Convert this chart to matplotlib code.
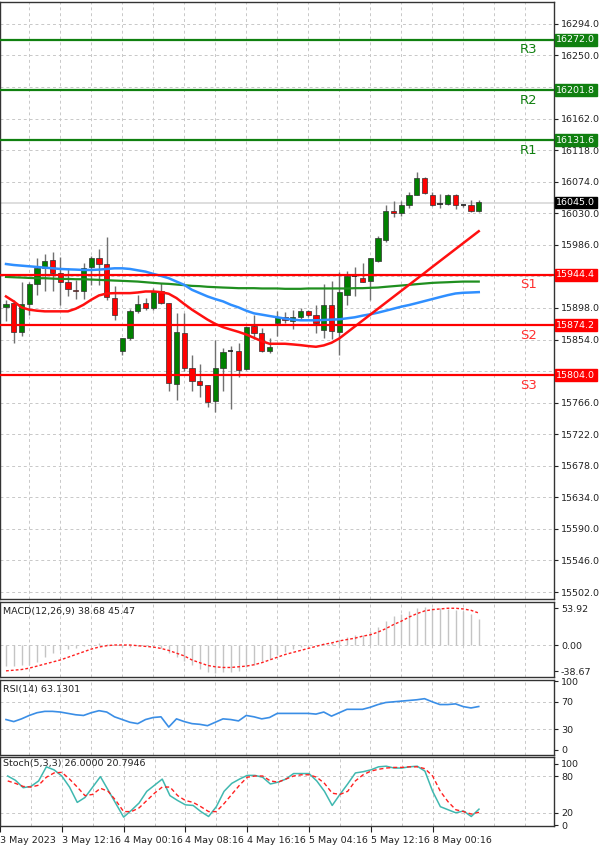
import matplotlib
matplotlib.use("Agg")
import matplotlib.pyplot as plt
import numpy as np

opens = [15899.4,15904.9,15864.7,15904.0,15931.2,15953.3,15964.9,15946.4,15934.0,15923.3,
         15922.0,15955.7,15967.2,15959.3,15911.8,15838.0,15856.4,15893.3,15904.9,15898.0,
         15922.0,15904.9,15791.8,15863.4,15814.9,15796.4,15790.9,15768.7,15814.9,15838.0,
         15838.0,15812.6,15872.6,15863.4,15838.0,15877.2,15885.5,15879.5,15885.0,15893.3,
         15888.7,15866.6,15901.7,15864.3,15916.4,15941.8,15939.5,15935.8,15963.5,15992.6,
         16033.2,16030.9,16041.0,16055.8,16078.9,16055.8,16043.3,16043.3,16054.9,16040.5,
         16041.0,16032.7]
highs = [15909.5,15909.5,15934.9,15934.9,15967.2,15972.8,15976.4,15968.6,15953.3,15937.2,
         15960.3,15970.9,15980.1,15997.2,15928.0,15856.4,15897.0,15916.4,15911.8,15925.7,
         15932.6,15904.9,15891.0,15891.0,15832.4,15819.5,15790.9,15852.7,15841.7,15844.9,
         15849.5,15872.6,15887.8,15869.4,15856.4,15893.3,15892.4,15895.7,15898.0,15895.7,
         15902.6,15931.2,15935.8,15948.7,15950.1,15955.7,15960.3,15968.1,15998.6,16042.0,
         16046.6,16046.6,16059.5,16087.2,16080.3,16059.5,16057.2,16057.2,16057.2,16043.0,
         16047.9,16047.9]
lows = [15879.5,15849.5,15858.7,15888.7,15915.5,15921.0,15921.0,15902.6,15914.1,15910.9,
        15910.9,15930.3,15930.3,15909.5,15881.8,15832.4,15852.7,15891.0,15895.7,15895.7,
        15903.5,15782.6,15769.7,15810.3,15782.6,15773.4,15760.4,15752.6,15782.6,15757.2,
        15802.0,15811.2,15854.1,15837.0,15835.7,15858.7,15877.2,15868.0,15881.8,15885.0,
        15863.4,15856.4,15854.1,15832.4,15902.6,15914.1,15934.0,15909.5,15961.7,15990.3,
        16024.9,16026.3,16037.3,16054.9,16057.2,16040.1,16037.3,16041.0,16035.5,16039.0,
        16031.8,16031.8]
closes = [15904.0,15864.7,15904.0,15931.2,15953.3,15963.5,15946.4,15934.0,15924.7,15921.0,
          15954.3,15967.2,15959.3,15912.7,15888.7,15856.4,15893.3,15903.5,15898.0,15922.0,
          15904.9,15794.1,15864.7,15814.0,15796.4,15790.9,15766.4,15814.9,15837.0,15838.5,
          15811.2,15871.2,15863.4,15838.0,15843.5,15885.5,15880.9,15885.0,15893.3,15887.8,
          15877.2,15902.6,15865.7,15920.1,15943.2,15942.3,15934.9,15967.2,15994.9,16032.7,
          16030.4,16042.0,16055.8,16078.9,16057.6,16041.0,16043.8,16054.9,16042.0,16041.5,
          16032.7,16045.6]
ma_red = [15914.1,15907.2,15898.8,15895.6,15894.2,15893.3,15893.3,15893.3,15893.3,15897.0,
          15902.5,15909.5,15915.5,15918.2,15918.7,15918.7,15918.7,15919.6,15921.0,15921.0,
          15920.1,15917.8,15911.8,15903.5,15895.6,15888.7,15881.8,15875.8,15871.2,15867.9,
          15864.7,15861.0,15856.4,15851.8,15848.1,15848.1,15848.1,15847.2,15846.2,15844.9,
          15843.9,15845.8,15849.5,15855.5,15863.8,15872.1,15880.4,15888.7,15897.0,15905.3,
          15913.6,15921.9,15930.2,15938.5,15946.8,15955.2,15963.5,15971.8,15980.1,15988.4,
          15996.7,16005.0]
ma_blue = [15959.3,15957.9,15957.0,15956.1,15955.2,15954.2,15953.3,15952.4,15951.9,15951.5,
           15951.0,15951.0,15951.5,15952.4,15953.3,15953.3,15952.4,15950.5,15948.7,15945.5,
           15942.7,15939.5,15934.8,15930.2,15923.3,15918.7,15914.1,15910.4,15907.2,15902.5,
           15898.8,15894.2,15890.5,15888.7,15886.8,15885.0,15883.2,15881.8,15880.8,15880.8,
           15880.8,15881.3,15881.8,15882.2,15883.6,15885.0,15887.3,15889.2,15891.5,15894.2,
           15897.0,15899.8,15902.1,15904.8,15907.6,15910.4,15913.2,15915.9,15918.2,15919.2,
           15919.6,15920.1]
ma_green = [15941.3,15940.8,15940.4,15939.9,15939.5,15939.5,15939.0,15938.5,15938.5,15938.1,
            15938.1,15937.6,15937.2,15936.7,15936.2,15935.8,15935.3,15934.8,15933.9,15933.0,
            15932.1,15931.6,15930.7,15929.8,15928.8,15928.4,15927.5,15927.0,15926.5,15926.1,
            15925.6,15925.6,15925.6,15925.2,15925.2,15925.2,15924.7,15924.7,15924.7,15925.2,
            15925.2,15925.2,15925.2,15925.2,15925.2,15925.6,15925.6,15926.1,15926.5,15927.5,
            15928.4,15929.3,15930.2,15931.2,15932.1,15933.0,15933.5,15933.9,15934.4,15934.8,
            15934.8,15934.8]
macd_main = [-31,-31,-30,-29,-25,-18,-12,-8,-6,-4,-2,0,3,2,0,-3,-3,-2,-1,-2,
             -5,-12,-18,-24,-30,-35,-40,-41,-40,-40,-38,-33,-30,-24,-20,-15,-10,-6,-3,-1,
             0,2,3,6,12,15,15,20,27,35,42,45,50,55,56,55,54,53,52,50,45,38.68]
macd_signal = [-38,-37,-36,-34,-31,-28,-25,-22,-18,-14,-10,-6,-3,-1,0,0,0,-1,-2,-3,
               -5,-8,-12,-16,-22,-26,-30,-32,-33,-33,-32,-31,-29,-26,-22,-18,-14,-11,-8,-5,
               -2,1,3,6,8,10,13,15,19,24,30,35,41,46,50,52,53,54,54,53,51,47]
rsi = [44,41,45,50,54,56,56,55,53,51,50,54,57,55,48,44,40,38,44,47,
       48,33,45,41,38,37,35,40,45,44,42,50,48,45,47,53,53,53,53,53,
       52,55,49,54,59,59,59,62,66,69,70,71,72,73,74.6,70,66,66,67,63,61,63.13]
stoch_k = [80,73,61,63,72,95,90,80,62,37,45,62,79,57,35,13,24,36,55,65,
           75,48,40,33,32,22,14,30,55,68,75,81,81,78,67,70,75,84,84,84,
           72,55,32,50,67,85,87,90,95,96,93,93,95,96,88,55,30,25,20,23,14,26]
stoch_d = [72,68,63,62,65,78,85,86,75,62,48,50,60,55,40,22,22,28,40,52,
           62,62,48,40,37,30,22,22,35,50,65,78,80,80,72,70,75,80,82,82,
           78,68,52,50,55,72,82,88,91,93,94,94,95,95,92,80,55,38,25,22,18,20.79]
level_names = ["R3", "R2", "R1", "S1", "S2", "S3"]
level_values = [16272.0, 16201.8, 16131.6, 15944.4, 15874.2, 15804.0]
current_price = 16045.0
xtick_index = [-1, 7, 15, 23, 31, 39, 47, 55]
xtick_labels = ["3 May 2023", "3 May 12:16", "4 May 00:16", "4 May 08:16",
                "4 May 16:16", "5 May 04:16", "5 May 12:16", "8 May 00:16"]
price_ticks = [16294, 16250, 16206, 16162, 16118, 16074, 16030, 15986, 15942, 15898,
               15854, 15810, 15766, 15722, 15678, 15634, 15590, 15546, 15502]

W, H = 600, 846
fig = plt.figure(figsize=(6, 8.46), dpi=100)
plt.rcParams["font.family"] = "DejaVu Sans"
def axpx(top, bottom):
    return fig.add_axes([0, 1 - bottom / H, 554 / W, (bottom - top) / H])

ax = axpx(2, 599)
ax1 = axpx(602, 677)
ax2 = axpx(680, 755)
ax3 = axpx(757, 826)
n = len(opens)
x = np.arange(n)
xl = (-6 / 7.75, (554 - 6) / 7.75)
vgrid = np.arange(-1, 72, 4)
for a in (ax, ax1, ax2, ax3):
    a.set_xlim(*xl)
    a.yaxis.tick_right()
    a.tick_params(axis="y", labelsize=6.8, length=3, pad=2, colors="#222222")
    a.set_xticks([])
    for v in vgrid:
        a.axvline(v, color="#c8c8c8", ls=(0, (3, 3)), lw=0.7, zorder=0)
    for s in a.spines.values():
        s.set_color("#333333")
        s.set_linewidth(1)

# main panel
ax.set_ylim(16294 - 577 / 0.7197, 16294 + 22 / 0.7197)
labels = []
for p in price_ticks:
    hide = any(abs(p - lv) < 8 for lv in level_values)
    labels.append("" if hide else f"{p:.1f}")
ax.set_yticks(price_ticks)
ax.set_yticklabels(labels)
for p in price_ticks:
    ax.axhline(p, color="#c8c8c8", ls=(0, (3, 3)), lw=0.7, zorder=0)
ax.axhline(current_price, color="#d8d8d8", lw=1.2, zorder=1)
for i in range(n):
    o, h, l, c = opens[i], highs[i], lows[i], closes[i]
    ax.vlines(i, l, h, color="#707070", lw=1, zorder=2)
    col = "#008000" if c >= o else "#ff0000"
    if abs(c - o) < 1.5:
        ax.hlines((o + c) / 2, i - 0.33, i + 0.33, color="#202020", lw=1.2, zorder=3)
    else:
        ax.bar(i, abs(c - o), bottom=min(o, c), width=0.66, color=col,
               edgecolor="#303030", linewidth=0.5, zorder=3)
ax.plot(x, ma_green, color="#1f8f1f", lw=1.6, zorder=4)
ax.plot(x, ma_blue, color="#2f8fff", lw=1.8, zorder=4)
ax.plot(x, ma_red, color="#ff1010", lw=1.8, zorder=4)
tr = ax.get_yaxis_transform()
for name, lv in zip(level_names, level_values):
    col = "#108010" if name.startswith("R") else "#ff0000"
    ax.axhline(lv, color=col, lw=1.6, zorder=4)
    ax.text(67.4, lv - 14, name, color=col if name.startswith("R") else "#ff3030",
            fontsize=9.5, ha="center", va="center")
    ax.text(1.004, lv, f"{lv:.1f}", transform=tr, color="white", fontsize=6.8,
            va="center", ha="left",
            bbox=dict(boxstyle="square,pad=0.15", fc=col, ec=col), clip_on=False)
ax.text(1.004, current_price, f"{current_price:.1f}", transform=tr, color="white",
        fontsize=6.8, va="center", ha="left",
        bbox=dict(boxstyle="square,pad=0.15", fc="black", ec="black"), clip_on=False)

# MACD
ax1.set_ylim(-47, 63.2)
ax1.vlines(x, 0, macd_main, color="#c4c4c4", lw=1)
ax1.plot(x, macd_signal, color="#ff2020", lw=1, ls=(0, (2, 1.5)))
ax1.axhline(0, color="#c8c8c8", ls=(0, (3, 3)), lw=0.7, zorder=0)
ax1.set_yticks([53.92, 0, -38.67])
ax1.set_yticklabels(["53.92", "0.00", "-38.67"])
ax1.text(0.005, 0.93, "MACD(12,26,9) 38.68 45.47", transform=ax1.transAxes,
         fontsize=6.8, va="top", color="#222222")

# RSI
ax2.set_ylim(-8, 102)
ax2.plot(x, rsi, color="#3a8ee6", lw=1.2)
for g in (70, 30):
    ax2.axhline(g, color="#c8c8c8", ls=(0, (3, 3)), lw=0.7, zorder=0)
ax2.set_yticks([100, 70, 30, 0])
ax2.text(0.005, 0.93, "RSI(14) 63.1301", transform=ax2.transAxes,
         fontsize=6.8, va="top", color="#222222")

# Stochastic
ax3.set_ylim(-1.5, 111)
ax3.plot(x, stoch_k, color="#40b8b0", lw=1.1)
ax3.plot(x, stoch_d, color="#ff2020", lw=1, ls=(0, (3, 2)))
for g in (80, 20):
    ax3.axhline(g, color="#c8c8c8", ls=(0, (3, 3)), lw=0.7, zorder=0)
ax3.set_yticks([100, 80, 20, 0])
ax3.text(0.005, 0.97, "Stoch(5,3,3) 26.0000 20.7946", transform=ax3.transAxes,
         fontsize=6.8, va="top", color="#222222")
ax3.set_xticks(xtick_index)
ax3.set_xticklabels(xtick_labels, fontsize=6.8, ha="left")
ax3.tick_params(axis="x", length=4, pad=3, colors="#222222")

fig.savefig("out.png", dpi=100, facecolor="white")
